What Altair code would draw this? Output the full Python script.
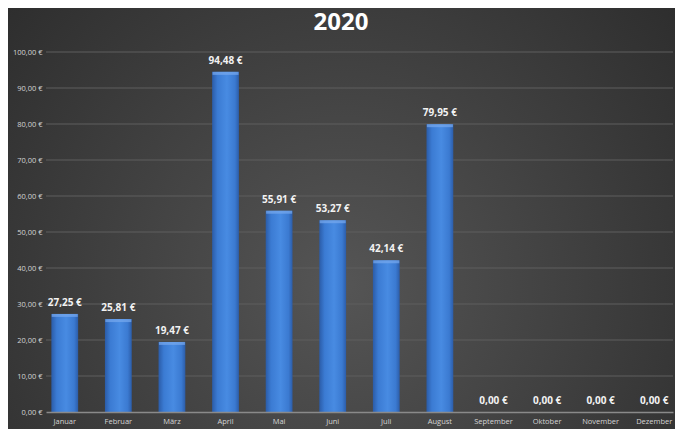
import altair as alt
import pandas as pd

months = ["Januar", "Februar", "März", "April", "Mai", "Juni", "Juli",
          "August", "September", "Oktober", "November", "Dezember"]
values = [27.25, 25.81, 19.47, 94.48, 55.91, 53.27, 42.14, 79.95, 0, 0, 0, 0]
grid_values = [10, 20, 30, 40, 50, 60, 70, 80, 90, 100]
tick_values = [0, 10, 20, 30, 40, 50, 60, 70, 80, 90, 100]
title_text = "2020"

labels = [f"{v:.2f}".replace(".", ",") + " €" for v in values]
df = pd.DataFrame({"month": months, "value": values, "label": labels})
df_pos = df[df["value"] > 0]

PL, PT, PR, PB = 38, 44, 2, 17
W, H = 667 - PL - PR, 360
FONT = "Open Sans"

bg_grad = {"gradient": "radial", "x1": 0.5, "y1": 0.6, "r1": 0,
           "x2": 0.5, "y2": 0.6, "r2": 0.75,
           "stops": [{"offset": 0, "color": "#555555"},
                     {"offset": 1, "color": "#282828"}]}
bar_grad = {"gradient": "linear", "x1": 0, "y1": 0, "x2": 1, "y2": 0,
            "stops": [{"offset": 0, "color": "#2b5ca8"},
                      {"offset": 0.2, "color": "#3b7bd3"},
                      {"offset": 0.55, "color": "#488be2"},
                      {"offset": 0.85, "color": "#3b7ad1"},
                      {"offset": 1, "color": "#2c5da9"}]}

one = alt.Data(values=[{"a": 1}])

xaxis = alt.Axis(title=None, labelAngle=0, labelColor="#d4d4d4",
                 labelFontSize=7.5, labelFont=FONT, ticks=False,
                 domainColor="#8a8a8a", domainWidth=1.5,
                 labelPadding=5, zindex=1)
yaxis = alt.Axis(title=None, values=tick_values,
                 labelExpr="replace(format(datum.value,'.2f'),'.',',') + ' €'",
                 grid=False, domain=False, ticks=False,
                 labelColor="#d4d4d4", labelFontSize=7.5, labelFont=FONT,
                 labelPadding=4, zindex=1)
xscale = alt.Scale(paddingInner=0.5, paddingOuter=0.1)
yscale = alt.Scale(domain=[0, 100], nice=False)

xenc = alt.X("month:N", sort=months, scale=xscale, axis=xaxis)
yenc = alt.Y("value:Q", scale=yscale, axis=yaxis)

bg = alt.Chart(one).mark_rect(color=bg_grad).encode(
    x=alt.value(-PL), x2=alt.value(W + PR),
    y=alt.value(-PT), y2=alt.value(H + PB))

grid = alt.Chart(pd.DataFrame({"value": grid_values})).mark_rule(
    color="#5e5e5e", strokeWidth=1).encode(y=yenc)

bars = alt.Chart(df).mark_bar(color=bar_grad).encode(x=xenc, y=yenc)

caps = alt.Chart(df_pos).mark_tick(color="#78aaee", thickness=3, size=26,
                                   yOffset=1.5).encode(x=xenc, y=yenc)

text = alt.Chart(df).mark_text(dy=-11, color="#f2f2f2", fontWeight="bold",
                               fontSize=10, font=FONT).encode(
    x=xenc, y=yenc, text="label:N")

title = alt.Chart(one).mark_text(
    text=title_text, fontSize=24, fontWeight="bold", font=FONT,
    color="#ffffff").encode(x=alt.value(333 - PL), y=alt.value(-29))

chart = alt.layer(bg, grid, bars, caps, text, title).properties(
    width=W, height=H, autosize="none",
    padding={"left": PL, "top": PT, "right": PR, "bottom": PB},
    background="#383838"
).configure_view(stroke=None)

chart.save("out.html", embed_options={"renderer": "svg", "actions": False})
